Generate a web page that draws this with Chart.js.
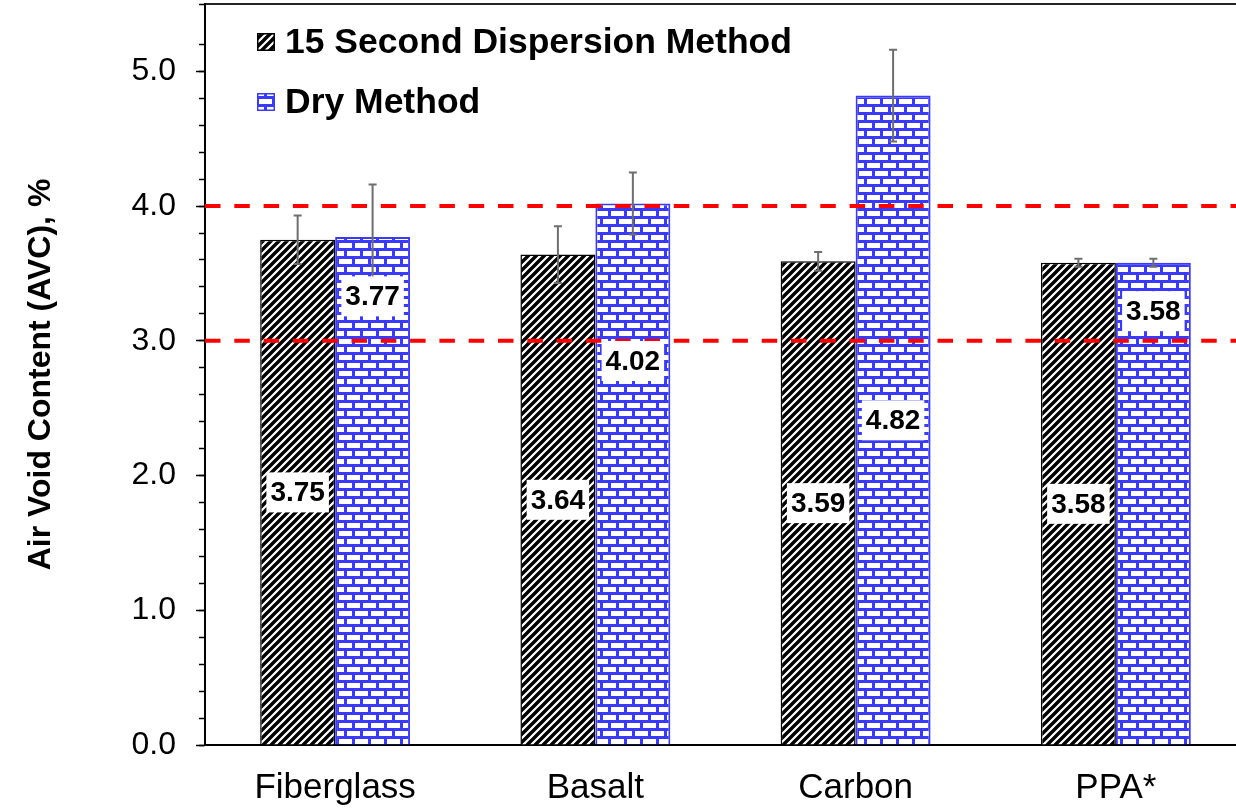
<!DOCTYPE html>
<html>
<head>
<meta charset="utf-8">
<title>Air Void Content</title>
<script src="https://cdn.jsdelivr.net/npm/chart.js@4.4.1/dist/chart.umd.min.js"></script>
<style>
  html, body { margin: 0; padding: 0; background: #fff; width: 1236px; height: 808px; overflow: hidden; }
  #wrap { position: relative; width: 1246px; height: 808px; }
</style>
</head>
<body>
<div id="wrap"><canvas id="chart" width="1246" height="808"></canvas></div>
<script>
// Fibre types along the category axis
const categories = ['Fiberglass', 'Basalt', 'Carbon', 'PPA*'];

// Mean air void content, %
const dispersionValues = [3.75, 3.64, 3.59, 3.58];
const dryValues = [3.77, 4.02, 4.82, 3.58];

// Standard deviation shown as error bars
const dispersionErrors = [0.18, 0.21, 0.07, 0.03];
const dryErrors = [0.39, 0.23, 0.34, 0.03];

// Specification limits (dashed red lines)
const limitLines = [3.0, 4.0];

// Value-axis labels
const yTickLabels = ['0.0', '1.0', '2.0', '3.0', '4.0', '5.0'];

const FONT = "'Liberation Sans', Arial, Helvetica, sans-serif";
const BLUE = '#3a3aff';

function stripePattern() {
  const s = 8;
  const c = document.createElement('canvas');
  c.width = c.height = s;
  const g = c.getContext('2d');
  g.fillStyle = '#fff';
  g.fillRect(0, 0, s, s);
  g.strokeStyle = '#000';
  g.lineWidth = 3.4;
  g.beginPath();
  for (const o of [-s, 0, s]) {
    g.moveTo(o - 1, s + 1);
    g.lineTo(o + s + 1, -1);
  }
  g.stroke();
  return g.createPattern(c, 'repeat');
}

function brickPattern(color) {
  const w = 16, h = 16, t = 3;
  const c = document.createElement('canvas');
  c.width = w; c.height = h;
  const g = c.getContext('2d');
  g.fillStyle = '#fff';
  g.fillRect(0, 0, w, h);
  g.fillStyle = color;
  g.fillRect(0, 0, w, t);
  g.fillRect(0, h / 2, w, t);
  g.fillRect(0, 0, t, h / 2);
  g.fillRect(w / 2, h / 2, t, h / 2);
  return g.createPattern(c, 'repeat');
}

// Red dashed limit lines across the plot area
const limitLinePlugin = {
  id: 'limitLines',
  afterDatasetsDraw(chart, args, opts) {
    const { ctx, chartArea } = chart;
    const y = chart.scales.y;
    ctx.save();
    ctx.strokeStyle = opts.color;
    ctx.lineWidth = opts.width;
    ctx.setLineDash(opts.dash);
    ctx.lineCap = 'butt';
    for (const v of opts.values) {
      const py = y.getPixelForValue(v);
      ctx.beginPath();
      ctx.moveTo(chartArea.left, py);
      ctx.lineTo(chartArea.right, py);
      ctx.stroke();
    }
    ctx.restore();
  }
};

// Symmetric error bars on every bar
const errorBarPlugin = {
  id: 'errorBars',
  afterDatasetsDraw(chart, args, opts) {
    const ctx = chart.ctx;
    const y = chart.scales.y;
    ctx.save();
    ctx.strokeStyle = opts.color;
    ctx.lineWidth = opts.width;
    chart.data.datasets.forEach((ds, i) => {
      const meta = chart.getDatasetMeta(i);
      meta.data.forEach((bar, j) => {
        const v = ds.data[j], e = ds.errors[j];
        const top = y.getPixelForValue(v + e);
        const bot = y.getPixelForValue(v - e);
        const x = bar.x;
        ctx.beginPath();
        ctx.moveTo(x, top); ctx.lineTo(x, bot);
        ctx.moveTo(x - opts.cap / 2, top); ctx.lineTo(x + opts.cap / 2, top);
        ctx.moveTo(x - opts.cap / 2, bot); ctx.lineTo(x + opts.cap / 2, bot);
        ctx.stroke();
      });
    });
    ctx.restore();
  }
};

// Boxed value labels
const valueLabelPlugin = {
  id: 'valueLabels',
  afterDatasetsDraw(chart, args, opts) {
    const ctx = chart.ctx;
    const y = chart.scales.y;
    ctx.save();
    ctx.font = `bold ${opts.size}px ${FONT}`;
    ctx.textAlign = 'center';
    ctx.textBaseline = 'middle';
    chart.data.datasets.forEach((ds, i) => {
      const meta = chart.getDatasetMeta(i);
      const at = opts.anchors[i];
      meta.data.forEach((bar, j) => {
        const v = ds.data[j];
        const text = v.toFixed(2);
        const py = y.getPixelForValue(at ? at[j] : v / 2);
        const w = ctx.measureText(text).width + opts.padX * 2;
        const h = opts.boxHeight;
        ctx.fillStyle = '#fff';
        ctx.fillRect(bar.x - w / 2, py - h / 2, w, h);
        ctx.fillStyle = '#000';
        ctx.fillText(text, bar.x, py + 1);
      });
    });
    ctx.restore();
  }
};

// Legend inside the plot area, upper left
const insideLegendPlugin = {
  id: 'insideLegend',
  afterDraw(chart, args, opts) {
    const ctx = chart.ctx;
    ctx.save();
    ctx.font = `bold ${opts.size}px ${FONT}`;
    ctx.textBaseline = 'middle';
    ctx.textAlign = 'left';
    chart.data.datasets.forEach((ds, i) => {
      const cy = opts.y + i * opts.rowGap;
      const sx = opts.x, sw = opts.box, sh = opts.box;
      ctx.fillStyle = ds.backgroundColor;
      ctx.fillRect(sx, cy - sh / 2, sw, sh);
      ctx.strokeStyle = ds.borderColor;
      ctx.lineWidth = 1.5;
      ctx.strokeRect(sx + 0.75, cy - sh / 2 + 0.75, sw - 1.5, sh - 1.5);
      ctx.fillStyle = '#000';
      ctx.fillText(ds.label, opts.textX, cy + 1);
    });
    ctx.restore();
  }
};

const ctx = document.getElementById('chart').getContext('2d');

new Chart(ctx, {
  type: 'bar',
  data: {
    labels: categories,
    datasets: [
      {
        label: '15 Second Dispersion Method',
        data: dispersionValues,
        errors: dispersionErrors,
        backgroundColor: stripePattern(),
        borderColor: '#000',
        borderWidth: 1.5,
        categoryPercentage: 0.576,
        barPercentage: 1.0
      },
      {
        label: 'Dry Method',
        data: dryValues,
        errors: dryErrors,
        backgroundColor: brickPattern(BLUE),
        borderColor: BLUE,
        borderWidth: 2,
        categoryPercentage: 0.576,
        barPercentage: 1.0
      }
    ]
  },
  plugins: [limitLinePlugin, errorBarPlugin, valueLabelPlugin, insideLegendPlugin],
  options: {
    responsive: false,
    animation: false,
    layout: { padding: 0 },
    plugins: {
      legend: { display: false },
      tooltip: { enabled: false },
      limitLines: { values: limitLines, color: '#ff0000', width: 4, dash: [15.5, 13.8] },
      errorBars: { color: '#6e6e6e', width: 2, cap: 8 },
      valueLabels: {
        size: 28, padX: 4, boxHeight: 40,
        anchors: [null, [3.33, 2.85, 2.41, 3.22]]
      },
      insideLegend: { x: 257, y: 42, rowGap: 60, box: 18, textX: 285, size: 35.5 }
    },
    scales: {
      x: {
        type: 'category',
        position: 'bottom',
        grid: { display: false, drawTicks: false },
        border: { display: true, color: '#000', width: 2 },
        ticks: { color: '#000', font: { family: FONT, size: 35 }, padding: 22 },
        afterFit: s => { s.height = 63; s.paddingLeft = 0; s.paddingRight = 0; }
      },
      xTop: {
        type: 'category',
        position: 'top',
        labels: categories,
        grid: { display: false, drawTicks: false },
        border: { display: true, color: '#222', width: 2 },
        ticks: { display: false },
        afterFit: s => { s.height = 4; s.paddingLeft = 0; s.paddingRight = 0; }
      },
      y: {
        type: 'linear',
        position: 'left',
        weight: 1,
        min: 0,
        max: 5.5,
        grid: { drawOnChartArea: false, drawTicks: true, tickLength: 9, color: '#000', tickWidth: 1.5 },
        border: { display: true, color: '#000', width: 2 },
        ticks: {
          stepSize: 1,
          color: '#000',
          padding: 20,
          font: { family: FONT, size: 32 },
          callback: (v) => {
            const k = Math.round(v);
            return Math.abs(v - k) < 1e-6 && yTickLabels[k] !== undefined ? yTickLabels[k] : null;
          }
        },
        title: {
          display: true,
          text: 'Air Void Content (AVC), %',
          color: '#000',
          font: { family: FONT, size: 32, weight: 'bold' },
          padding: { top: 22, bottom: 0 }
        },
        afterFit: s => { s.width = 205; s.paddingTop = 0; s.paddingBottom = 0; }
      },
      yMinor: {
        type: 'linear',
        position: 'left',
        weight: 0,
        min: 0,
        max: 5.5,
        grid: { drawOnChartArea: false, drawTicks: true, tickLength: 6, color: '#000', tickWidth: 1.5 },
        border: { display: false },
        ticks: { stepSize: 0.2, display: false },
        afterFit: s => { s.width = 0; s.paddingTop = 0; s.paddingBottom = 0; }
      }
    }
  }
});
</script>
</body>
</html>
